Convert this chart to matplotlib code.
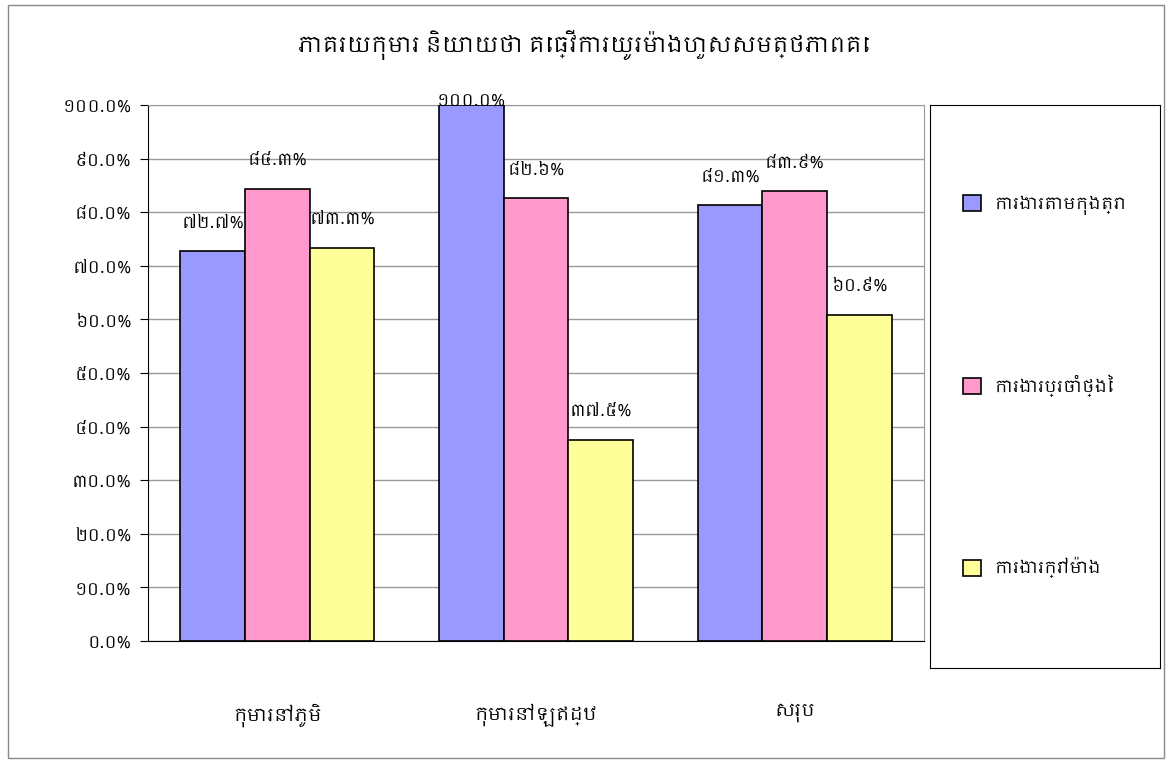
import numpy as np
import matplotlib
matplotlib.use('Agg')
import matplotlib.pyplot as plt
import matplotlib.font_manager as fm
from matplotlib.patches import Rectangle, Patch

# --- data ---
title = 'ភាគរយកុមារ និយាយថា គេធ្វើការយូរម៉ោងហួសសមត្ថភាពគេ'
categories = ['កុមារនៅភូមិ', 'កុមារនៅឡឥដ្ឋ', 'សរុប']
series_names = ['ការងារតាមកុងត្រា', 'ការងារប្រចាំថ្ងៃ', 'ការងារក្រៅម៉ោង']
contract = [72.7, 100.0, 81.3]
daily = [84.3, 82.6, 83.9]
overtime = [73.3, 37.5, 60.9]
yticks = [0, 10, 20, 30, 40, 50, 60, 70, 80, 90, 100]

colors = ['#9999FF', '#FF99CC', '#FFFF99']

# use a Khmer font if one happens to be installed, fall back to DejaVu
khmer = sorted({f.name for f in fm.fontManager.ttflist if 'Khmer' in f.name})
plt.rcParams['font.family'] = khmer[:1] + ['DejaVu Sans']

KH_DIGITS = str.maketrans('0123456789', '០១២៣៤៥៦៧៨៩')


def kh_pct(v):
    return f'{v:.1f}%'.translate(KH_DIGITS)


fig = plt.figure(figsize=(11.68, 7.62), dpi=100)
fig.patches.append(Rectangle((8 / 1168, 4 / 762), 1156 / 1168, 753 / 762,
                             transform=fig.transFigure, fill=False,
                             edgecolor='#888888', linewidth=1))

ax = fig.add_axes([148 / 1168, 1 - 641 / 762, 776 / 1168, 536 / 762])
x = np.arange(len(categories))
width = 0.25
ymax = 100
all_series = [contract, daily, overtime]
for i, (vals, name) in enumerate(zip(all_series, series_names)):
    pos = x + (i - 1) * width
    bars = ax.bar(pos, vals, width, color=colors[i], edgecolor='black',
                  linewidth=1.2, label=name, zorder=3)
    for b, v in zip(bars, vals):
        # labels sit above the bar, but get pushed down to the plot top (like Excel)
        ly = min(v + 5.4, ymax + 0.8)
        ax.text(b.get_x() + b.get_width() / 2, ly, kh_pct(v),
                ha='center', va='center', fontsize=12, zorder=4)

ax.set_xlim(-0.5, 2.5)
ax.set_ylim(0, ymax)
ax.set_yticks(yticks)
ax.set_yticklabels([kh_pct(t) for t in yticks], fontsize=12)
ax.set_xticks(x)
ax.set_xticklabels(categories, fontsize=13)
ax.tick_params(axis='x', length=0, pad=45)
ax.tick_params(axis='y', length=6, direction='out', pad=6)
ax.yaxis.grid(True, color='#999999', linewidth=1, zorder=0)
for s in ['top', 'right']:
    ax.spines[s].set_color('#999999')
ax.spines['left'].set_color('black')
ax.spines['bottom'].set_color('black')

fig.text(0.5, 1 - 45 / 762, title, ha='center', va='center',
         fontsize=15.5, fontweight='bold')

# legend in its own framed box on the right
lax = fig.add_axes([930 / 1168, 1 - 668 / 762, 230 / 1168, 563 / 762])
lax.set_xticks([])
lax.set_yticks([])
for s in lax.spines.values():
    s.set_color('black')
handles = [Patch(facecolor=c, edgecolor='black', linewidth=1.2) for c in colors]
lax.legend(handles, series_names, loc='center', frameon=False, fontsize=12,
           handlelength=1.1, handleheight=1.1, labelspacing=9.6)

fig.savefig('out.png', dpi=100)
